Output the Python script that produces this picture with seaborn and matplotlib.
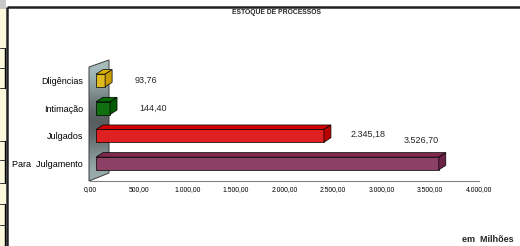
"""Estoque de processos - 3D-style horizontal bar chart (Excel look)."""
import numpy as np
import matplotlib
matplotlib.use("Agg")
import matplotlib.pyplot as plt
from matplotlib.patches import Polygon, Rectangle
import seaborn as sns

# data
categories = ["Dligências", "Intimação", "Julgados", "Para  Julgamento"]
values = [93.76, 144.40, 2345.18, 3526.70]
ticks = [0, 500, 1000, 1500, 2000, 2500, 3000, 3500, 4000]

front_colors = ["#FFCC00", "#008000", "#FF0000", "#993366"]
side_colors = ["#C89B00", "#005A00", "#B80000", "#6C2348"]
top_colors = ["#E0B000", "#006C00", "#D00000", "#80294F"]

# label offsets (points) from the bar end
label_offsets = [(16, 0), (16, 0), (14, 1), (-30, 17)]


def br(v):
    s = f"{v:,.2f}"
    return s.replace(",", "#").replace(".", ",").replace("#", ".")


sns.set_theme(style="white")
plt.rcParams["font.family"] = ["Liberation Sans", "DejaVu Sans"]

W, H = 520, 246
fig = plt.figure(figsize=(W / 100, H / 100), dpi=100)
fig.patch.set_facecolor("white")

# pixel canvas for frame, wall and side strip
canvas = fig.add_axes([0, 0, 1, 1], zorder=0)
canvas.set_xlim(0, W)
canvas.set_ylim(H, 0)
canvas.axis("off")

# spreadsheet strip at the left
canvas.add_patch(Rectangle((0, 0), 6, 9, color="#c8c8c8", lw=0))
canvas.add_patch(Rectangle((0, 9), 6, H - 9, color="#fbf8dc", lw=0))
for yy in [48, 68, 88, 141, 160, 183, 204, 225]:
    canvas.plot([0, 5], [yy, yy], color="#333333", lw=0.7)
for y0, y1 in [(48, 88), (141, 183), (204, 246)]:
    canvas.plot([4.5, 4.5], [y0, y1], color="black", lw=1.0)

# chart frame
canvas.plot([7, W], [7, 7], color="#202020", lw=1.8, solid_capstyle="butt")
canvas.plot([7, 7], [7, H], color="#202020", lw=1.8, solid_capstyle="butt")

# back wall with gradient
wall = Polygon([(89, 181), (89, 67), (109, 60), (109, 173)], closed=True,
               facecolor="none", edgecolor="#3a3a3a", lw=0.7, zorder=3)
canvas.add_patch(wall)
grad = np.array([[0.0], [0.5], [1.0], [0.6], [0.15]])
cmap = matplotlib.colors.LinearSegmentedColormap.from_list(
    "wall", ["#a9c0c0", "#4a4e4e"])
img = canvas.imshow(grad, extent=(89, 109, 181, 60), cmap=cmap, aspect="auto",
                    interpolation="bicubic", zorder=2)
img.set_clip_path(wall)

# bar axes
px_per_unit = 388.8 / 4000
ax = fig.add_axes([96 / W, 1 - 177.33 / H, 388.8 / W, 110.67 / H], zorder=1)
ax.patch.set_alpha(0)
sns.barplot(x=values, y=categories, hue=categories, palette=front_colors,
            legend=False, orient="h", width=0.46, edgecolor="black",
            linewidth=0.5, ax=ax)
ax.set_xlim(0, 4000)
ax.set_ylim(3.5, -0.5)
for s in ax.spines.values():
    s.set_visible(False)
ax.set_xticks([])
ax.set_xlabel("")
ax.set_ylabel("")
ax.tick_params(axis="y", length=0, pad=9.4, labelsize=6.5, colors="black")

dx = 7 / px_per_unit
dy = 4.5 / 27.67
for i, p in enumerate(ax.patches[:len(values)]):
    x0, yb = p.get_x(), p.get_y()
    w, h = p.get_width(), p.get_height()
    yt = yb  # upper edge in inverted axis
    top = Polygon([(x0, yt), (x0 + w, yt), (x0 + w + dx, yt - dy), (x0 + dx, yt - dy)],
                  closed=True, facecolor=top_colors[i], edgecolor="black",
                  lw=0.5, clip_on=False)
    side = Polygon([(x0 + w, yt), (x0 + w, yt + h), (x0 + w + dx, yt + h - dy),
                    (x0 + w + dx, yt - dy)], closed=True,
                   facecolor=side_colors[i], edgecolor="black", lw=0.5,
                   clip_on=False)
    ax.add_patch(top)
    ax.add_patch(side)
    ax.annotate(br(values[i]), (x0 + w + dx, yb + h / 2),
                xytext=label_offsets[i], textcoords="offset points",
                ha="left", va="center", fontsize=6.5)

# value axis (front floor edge)
tax = fig.add_axes([90 / W, 1 - 181 / H, 388.8 / W, 0.0001], zorder=1)
tax.patch.set_alpha(0)
tax.set_xlim(0, 4000)
tax.set_yticks([])
for k in ["top", "left", "right"]:
    tax.spines[k].set_visible(False)
tax.spines["bottom"].set_color("#808080")
tax.spines["bottom"].set_linewidth(0.8)
tax.set_xticks(ticks)
tax.set_xticklabels([br(t) for t in ticks])
tax.tick_params(axis="x", direction="inout", length=2.5, width=0.6,
                color="#808080", labelsize=4.9, pad=2.5, labelcolor="black")

fig.text(276 / W, 1 - 13 / H, "ESTOQUE DE PROCESSOS", ha="center",
         va="center", fontsize=4.9, fontweight="bold")
fig.text(488 / W, 1 - 240 / H, "em  Milhões", ha="center", va="center",
         fontsize=6.5, fontweight="bold")

fig.savefig("out.png", dpi=100)
